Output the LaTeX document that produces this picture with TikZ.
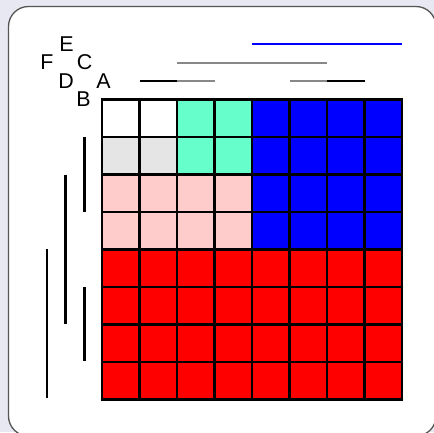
\documentclass[tikz,border=0pt]{standalone}
\usepackage{fontspec}
\setmainfont{Liberation Sans}
\definecolor{bgl}{HTML}{E8E8F2}
\definecolor{framec}{HTML}{555555}
\definecolor{aqua}{HTML}{66FFCC}
\definecolor{lgray}{HTML}{E5E5E5}
\definecolor{pinkc}{HTML}{FFCCCC}
\definecolor{linegray}{HTML}{888888}
\tikzset{
  cell/.style={draw=black, line width=2.6bp, minimum size=37.5bp, inner sep=0pt, outer sep=0pt, anchor=north west},
  lbl/.style={font=\fontsize{21.5}{21.5}\selectfont, inner sep=0pt},
  hbar/.style={line width=2bp},
  vbar/.style={line width=2.5bp},
}
\begin{document}
\begin{tikzpicture}[x=1bp,y=-1bp]
\useasboundingbox (0,0) rectangle (434,432);
\fill[bgl] (0,0) rectangle (434,432);
\begin{scope}
\clip (0,0) rectangle (434,432);
\draw[framec, line width=1.3bp, fill=white, rounded corners=20bp] (8.5,6.5) rectangle (436,436);
\end{scope}
% grid
\foreach \r in {0,...,7}{
  \foreach \c in {0,...,7}{
    \pgfmathsetmacro{\col}{\r<2 ? (\c<2 ? (\r==0 ? 1 : 2) : (\c<4 ? 3 : 4)) : (\r<4 ? (\c<4 ? 5 : 4) : 6)}
    \ifcase\col\relax
    \or \def\fc{white}
    \or \def\fc{lgray}
    \or \def\fc{aqua}
    \or \def\fc{blue}
    \or \def\fc{pinkc}
    \or \def\fc{red}
    \fi
    \node[cell, fill=\fc] (c-\r-\c) at ({102+37.5*\c},{99.5+37.5*\r}) {};
  }
}
% labels
\node[lbl] (A) at (103.5,81) {A};
\node[lbl] (B) at (83.5,99.5) {B};
\node[lbl] (C) at (84.5,62.5) {C};
\node[lbl] (D) at (66,81) {D};
\node[lbl] (E) at (66.5,44.5) {E};
\node[lbl] (F) at (47,62.5) {F};
% top bars
\draw[hbar, black] (139.5,81) -- (177,81);
\draw[hbar, linegray] (177,81) -- (214.5,81);
\draw[hbar, linegray] (289.5,81) -- (327,81);
\draw[hbar, black] (327,81) -- (364.5,81);
\draw[hbar, linegray] (177,62.5) -- (327,62.5);
\draw[hbar, blue] (252,44) -- (402,44);
% left bars
\draw[vbar] (84.3,137) -- (84.3,212);
\draw[vbar] (84.3,287) -- (84.3,361);
\draw[vbar] (65.7,174.5) -- (65.7,324);
\draw[vbar] (47,249) -- (47,398);
\end{tikzpicture}
\end{document}
